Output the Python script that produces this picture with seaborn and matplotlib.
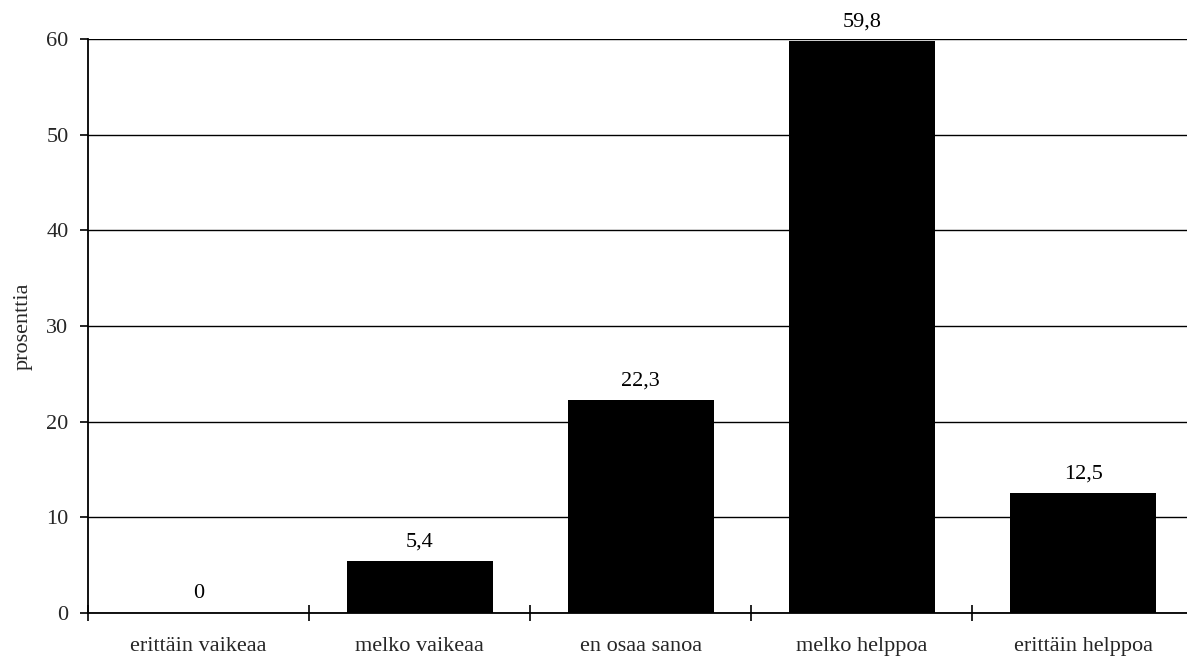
import matplotlib
matplotlib.use("Agg")
import matplotlib.pyplot as plt
import seaborn as sns
import pandas as pd

# data
categories = ["erittäin vaikeaa", "melko vaikeaa", "en osaa sanoa", "melko helppoa", "erittäin helppoa"]
values = [0, 5.4, 22.3, 59.8, 12.5]
value_labels = ["0", "5,4", "22,3", "59,8", "12,5"]

df = pd.DataFrame({"vastaus": categories, "prosenttia": values})

sns.set_theme(style="white")
plt.rcParams["font.family"] = ["Liberation Serif", "DejaVu Serif"]

fig = plt.figure(figsize=(11.87, 6.64), dpi=100)
ax = fig.add_axes([0.0741, 0.0768, 0.9259, 0.8645])

sns.barplot(data=df, x="vastaus", y="prosenttia", color="black", width=0.66,
            saturation=1, linewidth=0, edgecolor="black", ax=ax, zorder=3)

# arvot palkkien yläpuolelle
for i, (v, lab) in enumerate(zip(values, value_labels)):
    ax.text(i, v + 1.0, lab, ha="center", va="bottom", fontsize=16, color="black")

ax.set_ylim(0, 60)
ax.set_xlim(-0.5, 4.47)
ax.set_yticks(range(0, 61, 10))
ax.yaxis.grid(True, color="black", linewidth=1.0, zorder=0)
ax.set_axisbelow(True)

# category boundaries as major ticks, labels at minor positions
ax.set_xticks([-0.5, 0.5, 1.5, 2.5, 3.5])
ax.set_xticklabels([])
ax.set_xticks(range(len(categories)), minor=True)
ax.set_xticklabels(categories, minor=True, fontsize=16)
ax.tick_params(axis="x", which="major", direction="inout", length=12, width=1.2, color="black", bottom=True)
ax.tick_params(axis="x", which="minor", length=0, pad=17)
ax.tick_params(axis="y", direction="out", length=6, width=1.2, color="black", left=True,
               labelsize=16, pad=8)

for s in ["top", "right"]:
    ax.spines[s].set_visible(False)
for s in ["left", "bottom"]:
    ax.spines[s].set_color("black")
    ax.spines[s].set_linewidth(1.3)

ax.set_xlabel("")
ax.set_ylabel("prosenttia", fontsize=16, labelpad=10)

fig.savefig("out.png", dpi=100)
